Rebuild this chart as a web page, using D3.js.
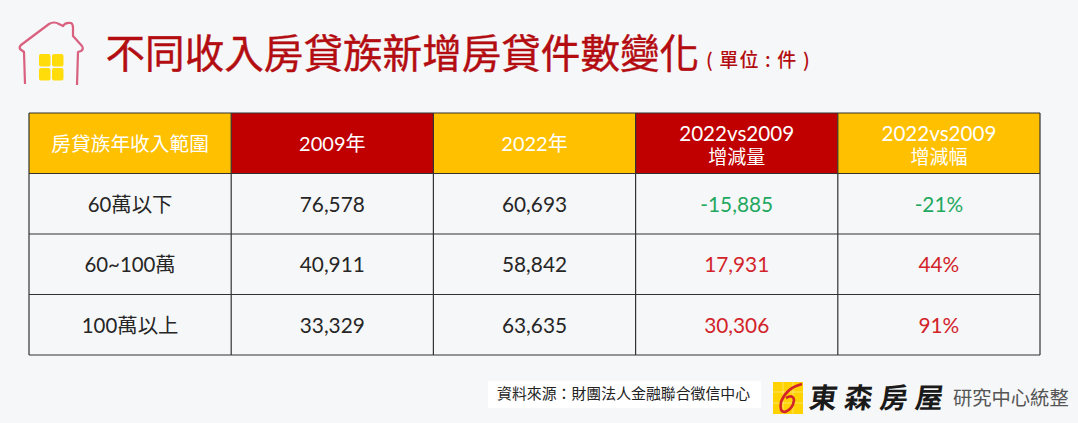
<!DOCTYPE html>
<html>
<head>
<meta charset="utf-8">
<script src="https://cdn.jsdelivr.net/npm/d3@7"></script>
<style>
  html, body { margin: 0; padding: 0; background: #f6f7f8; overflow: hidden; }
  text { font-family: Lato, "Noto Sans CJK TC", sans-serif; }
  .cjk { font-family: "Noto Sans CJK TC", sans-serif; }
</style>
</head>
<body>
<svg id="chart" width="1078" height="423"></svg>
<script>
// Table content
const headers = [['房貸族年收入範圍'], ['2009年'], ['2022年'], ['2022vs2009', '增減量'], ['2022vs2009', '增減幅']];
const incomeRanges = ['60萬以下', '60~100萬', '100萬以上'];
const cases2009 = [76578, 40911, 33329];
const cases2022 = [60693, 58842, 63635];
const changeCount = [-15885, 17931, 30306];
const changePct = [-21, 44, 91];

const RED = '#c00000';
const AMBER = '#ffc000';
const fmt = d3.format(',');

const svg = d3.select('#chart');

// Column and row bands
const columns = d3.range(headers.length);
const rows = ['header'].concat(incomeRanges);
const x = d3.scaleBand().domain(columns).range([29, 1040]);
const y = d3.scaleBand().domain(rows).range([113, 355]);

// Title
svg.append('text').attr('class', 'cjk')
  .attr('x', 105.5).attr('y', 68)
  .attr('font-size', 39.6).attr('fill', '#b30d12')
  .attr('stroke', '#b30d12').attr('stroke-width', 0.4)
  .text('不同收入房貸族新增房貸件數變化');
svg.append('text').attr('class', 'cjk')
  .attr('x', 706).attr('y', 67)
  .attr('font-size', 19).attr('font-weight', 500).attr('fill', '#b30d12')
  .attr('letter-spacing', 1.15)
  .text('( 單位 : 件 )');

// House icon
const icon = svg.append('g');
icon.append('path')
  .attr('d', 'M25 84 L24 52 L20 49 Q19 47 21 45 L49 24 Q54 21 59 24 L63 26 Q65 22 71 23 Q73 24 73 28 L73 36 L82 46 Q84 49 81 51 L78 52 L77 85')
  .attr('fill', 'none').attr('stroke', '#d9607f').attr('stroke-width', 2.2).attr('stroke-linejoin', 'round');
[[39, 54], [52, 54], [39, 68], [52, 68]].forEach(([wx, wy]) => {
  icon.append('rect').attr('x', wx).attr('y', wy).attr('width', 11.5).attr('height', 12.5).attr('rx', 2).attr('fill', '#ffdc0a');
});

// Header cells
svg.append('g').selectAll('rect')
  .data(headers)
  .join('rect')
  .attr('x', (d, i) => x(i))
  .attr('y', y('header'))
  .attr('width', x.bandwidth())
  .attr('height', y.bandwidth())
  .attr('fill', (d, i) => i % 2 === 0 ? AMBER : RED);

// Header labels
const headerText = svg.append('g').selectAll('text')
  .data(headers)
  .join('text')
  .attr('text-anchor', 'middle')
  .attr('fill', '#fff');
headerText.each(function(lines, i) {
  const sel = d3.select(this);
  const cx = x(i) + x.bandwidth() / 2;
  if (lines.length === 1) {
    sel.append('tspan').attr('x', cx).attr('y', 151).attr('font-size', i === 0 ? 19.7 : 20).text(lines[0]);
  } else {
    sel.append('tspan').attr('x', cx).attr('y', 141).attr('font-size', 20.6).text(lines[0]);
    sel.append('tspan').attr('x', cx).attr('y', 164).attr('font-size', 19).text(lines[1]);
  }
});

// Body cells
const tableRows = incomeRanges.map((name, i) => [
  name,
  fmt(cases2009[i]),
  fmt(cases2022[i]),
  fmt(changeCount[i]).replace('−', '-'),
  changePct[i] + '%'
]);
const signColor = (v, i) => {
  if (i < 3) return '#262626';
  return v.startsWith('-') ? '#1fa860' : '#d2232a';
};
tableRows.forEach((cells, r) => {
  svg.append('g').selectAll('text')
    .data(cells)
    .join('text')
    .attr('x', (d, i) => x(i) + x.bandwidth() / 2)
    .attr('y', y(incomeRanges[r]) + y.bandwidth() / 2 + 8)
    .attr('text-anchor', 'middle')
    .attr('font-size', (d, i) => i === 0 ? 20.4 : 20.8)
    .attr('fill', signColor)
    .text(d => d);
});

// Grid lines
const grid = svg.append('g').attr('stroke', '#333').attr('stroke-width', 1.2);
rows.concat('end').forEach(r => {
  const yy = r === 'end' ? y.range()[1] : y(r);
  grid.append('line').attr('x1', 29).attr('x2', 1040).attr('y1', yy).attr('y2', yy);
});
columns.concat('end').forEach(c => {
  const xx = c === 'end' ? x.range()[1] : x(c);
  grid.append('line').attr('x1', xx).attr('x2', xx).attr('y1', 113).attr('y2', 355);
});

// Source note
svg.append('rect').attr('x', 488).attr('y', 381).attr('width', 273).attr('height', 27).attr('fill', '#fff');
svg.append('text').attr('class', 'cjk')
  .attr('x', 497).attr('y', 399)
  .attr('font-size', 14.9).attr('fill', '#222')
  .text('資料來源：財團法人金融聯合徵信中心');

// Company logo
svg.append('rect').attr('x', 773).attr('y', 382).attr('width', 30).attr('height', 32).attr('fill', '#ffd200');
const logoGrid = svg.append('g').attr('stroke', '#ffe680').attr('stroke-width', 0.8);
[783, 793].forEach(v => logoGrid.append('line').attr('x1', v).attr('x2', v).attr('y1', 382).attr('y2', 414));
[392, 403].forEach(v => logoGrid.append('line').attr('x1', 773).attr('x2', 803).attr('y1', v).attr('y2', v));
svg.append('path')
  .attr('d', 'M802 384 Q786 388 781 402 Q779 412 785 412 Q793 409 794 400 Q793 394 786 398')
  .attr('fill', 'none').attr('stroke', '#d2232a').attr('stroke-width', 2.6);
svg.append('text').attr('class', 'cjk')
  .attr('transform', 'translate(808,408) skewX(-8)')
  .attr('font-size', 28).attr('font-weight', 700).attr('fill', '#1a1a1a')
  .attr('textLength', 134)
  .text('東森房屋');
svg.append('text').attr('class', 'cjk')
  .attr('x', 953).attr('y', 405)
  .attr('font-size', 19.3).attr('fill', '#555')
  .text('研究中心統整');
</script>
</body>
</html>
